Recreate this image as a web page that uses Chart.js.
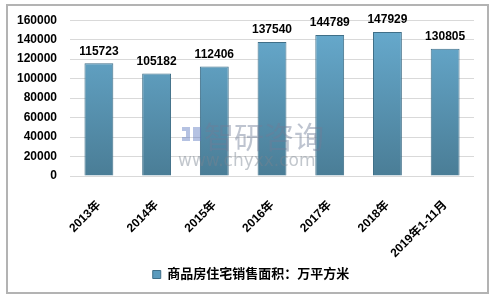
<!DOCTYPE html>
<html>
<head>
<meta charset="utf-8">
<script src="https://cdn.jsdelivr.net/npm/chart.js@4/dist/chart.umd.min.js"></script>
<style>
html,body{margin:0;padding:0;background:#fff;}
#wrap{position:relative;width:496px;height:300px;}
</style>
</head>
<body>
<div id="wrap"><canvas id="c" width="496" height="300"></canvas></div>
<script>
const categories = ["2013年","2014年","2015年","2016年","2017年","2018年","2019年1-11月"];
const salesArea = [115723,105182,112406,137540,144789,147929,130805];
const seriesName = "商品房住宅销售面积：万平方米";
const yTicks = [0,20000,40000,60000,80000,100000,120000,140000,160000];

const FONT = "'Liberation Sans', Arial, 'Noto Sans CJK SC', sans-serif";

const framePlugin = {
  id: 'frame',
  beforeDraw(chart) {
    const ctx = chart.ctx;
    ctx.save();
    ctx.fillStyle = '#fff';
    ctx.fillRect(0,0,chart.width,chart.height);
    ctx.strokeStyle = '#b3b3b3';
    ctx.lineWidth = 2;
    ctx.strokeRect(7,5,481,288);
    ctx.restore();
  }
};

const legendShift = {
  id: 'legendShift',
  afterLayout(chart) {
    if (chart.legend) {
      chart.legend.left += 12;
      chart.legend.right += 12;
    }
  }
};

const watermarkPlugin = {
  id: 'watermark',
  afterDatasetsDraw(chart) {
    const ctx = chart.ctx;
    ctx.save();
    ctx.fillStyle = 'rgba(110,125,150,0.45)';
    ctx.font = "30px 'Noto Sans CJK SC', sans-serif";
    ctx.textBaseline = 'middle';
    ctx.textAlign = 'left';
    ctx.fillText('智研咨询', 204, 137);
    ctx.font = "17px 'DejaVu Sans', sans-serif";
    ctx.fillStyle = 'rgba(120,130,145,0.45)';
    ctx.fillText('www.chyxx.com', 178, 162);
    ctx.fillStyle = 'rgba(90,120,190,0.45)';
    ctx.fillRect(182,127,8,4);
    ctx.fillRect(186,131,4,6);
    ctx.fillRect(182,137,8,4);
    ctx.fillRect(193,127,8,14);
    ctx.restore();
  }
};

const labelPlugin = {
  id: 'valueLabels',
  afterDatasetsDraw(chart) {
    const ctx = chart.ctx;
    const meta = chart.getDatasetMeta(0);
    ctx.save();
    ctx.font = "bold 12px " + FONT;
    ctx.fillStyle = '#000';
    ctx.textAlign = 'center';
    ctx.textBaseline = 'bottom';
    meta.data.forEach((bar, i) => {
      ctx.fillText(String(chart.data.datasets[0].data[i]), bar.x, bar.y - 6);
    });
    ctx.restore();
  }
};

function barGradient(context) {
  const chart = context.chart;
  const area = chart.chartArea;
  if (!area) return '#5b9bbd';
  const g = chart.ctx.createLinearGradient(0, area.top, 0, area.bottom);
  g.addColorStop(0, '#68acd0');
  g.addColorStop(1, '#4a7d96');
  return g;
}

new Chart(document.getElementById('c'), {
  type: 'bar',
  data: {
    labels: categories,
    datasets: [{
      label: seriesName,
      data: salesArea,
      backgroundColor: barGradient,
      borderColor: '#3f6f88',
      borderWidth: 1,
      categoryPercentage: 1.0,
      barPercentage: 0.5
    }]
  },
  options: {
    responsive: false,
    animation: false,
    devicePixelRatio: 1,
    layout: { padding: { left: 4, right: 22, top: 14, bottom: 9 } },
    plugins: {
      legend: {
        position: 'bottom',
        labels: {
          font: { family: FONT, size: 13, weight: 'bold' },
          color: '#000',
          boxWidth: 8,
          boxHeight: 8,
          padding: 4,
          generateLabels(chart) {
            return [{
              text: seriesName,
              fillStyle: '#5b9bbd',
              strokeStyle: '#3f6f88',
              lineWidth: 1,
              hidden: false,
              datasetIndex: 0
            }];
          }
        }
      },
      tooltip: { enabled: false }
    },
    scales: {
      x: {
        grid: { display: false },
        border: { display: false },
        afterFit(scale) {
          scale.height = 88;
          scale.paddingLeft = 0;
          scale.paddingRight = 0;
        },
        ticks: {
          color: '#000',
          font: { family: FONT, size: 12, weight: 'bold' },
          minRotation: 45,
          maxRotation: 45,
          padding: 14
        }
      },
      y: {
        min: 0,
        max: 160000,
        afterBuildTicks(axis) { axis.ticks = yTicks.map(v => ({ value: v })); },
        grid: { color: '#d9d9d9', lineWidth: 1, drawTicks: false },
        border: { display: false },
        ticks: {
          color: '#000',
          font: { family: FONT, size: 12, weight: 'bold' },
          padding: 13,
          callback: (v) => String(v)
        }
      }
    }
  },
  plugins: [framePlugin, legendShift, labelPlugin, watermarkPlugin]
});
</script>
</body>
</html>
